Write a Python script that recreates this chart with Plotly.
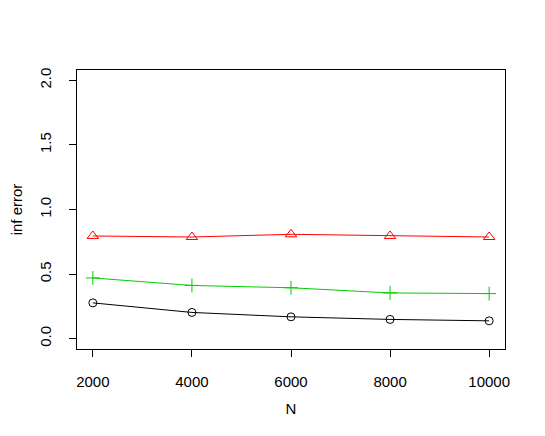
import plotly.graph_objects as go

n_values = [2000, 4000, 6000, 8000, 10000]
n_tick_text = ["2000", "4000", "6000", "8000", "10000"]
err_black = [0.277, 0.203, 0.169, 0.149, 0.138]
err_green = [0.470, 0.412, 0.394, 0.354, 0.349]
err_red = [0.795, 0.787, 0.808, 0.795, 0.787]

y_ticks = [0.0, 0.5, 1.0, 1.5, 2.0]
y_tick_text = ["0.0", "0.5", "1.0", "1.5", "2.0"]

FONT = "Liberation Sans, Arial, sans-serif"

fig = go.Figure()

series = [
    (err_black, "black", "circle-open", 8),
    (err_red, "#FF0000", "triangle-up-open", 10),
    (err_green, "#00CD00", "cross-thin-open", 10),
]
for vals, color, symbol, size in series:
    fig.add_trace(go.Scatter(
        x=n_values, y=vals, mode="lines+markers",
        line=dict(color=color, width=1),
        marker=dict(symbol=symbol, size=size, color=color, line=dict(color=color, width=1)),
        showlegend=False,
    ))

axis_common = dict(
    showgrid=False, zeroline=False, automargin=False,
    showline=True, mirror=True, linecolor="black", linewidth=1,
    ticks="outside", ticklen=7, tickcolor="black", tickwidth=1,
    tickfont=dict(family=FONT, size=15, color="black"),
)

# page body adds ~8px offset, so margins are shifted to compensate
fig.update_layout(
    width=545, height=436,
    margin=dict(l=69, r=48, t=62, b=95),
    paper_bgcolor="white", plot_bgcolor="white",
    font=dict(family=FONT, size=15, color="black"),
    xaxis=dict(
        range=[1680, 10320], tickvals=n_values, ticktext=n_tick_text,
        ticklabelstandoff=12,
        title=dict(text="N", standoff=14, font=dict(size=15)),
        **axis_common,
    ),
    yaxis=dict(
        range=[-0.08, 2.08], tickvals=y_ticks, ticktext=y_tick_text,
        tickangle=-90, ticklabelstandoff=12,
        title=dict(text="inf error", standoff=18, font=dict(size=15)),
        **axis_common,
    ),
)

fig.write_html("out.html")
